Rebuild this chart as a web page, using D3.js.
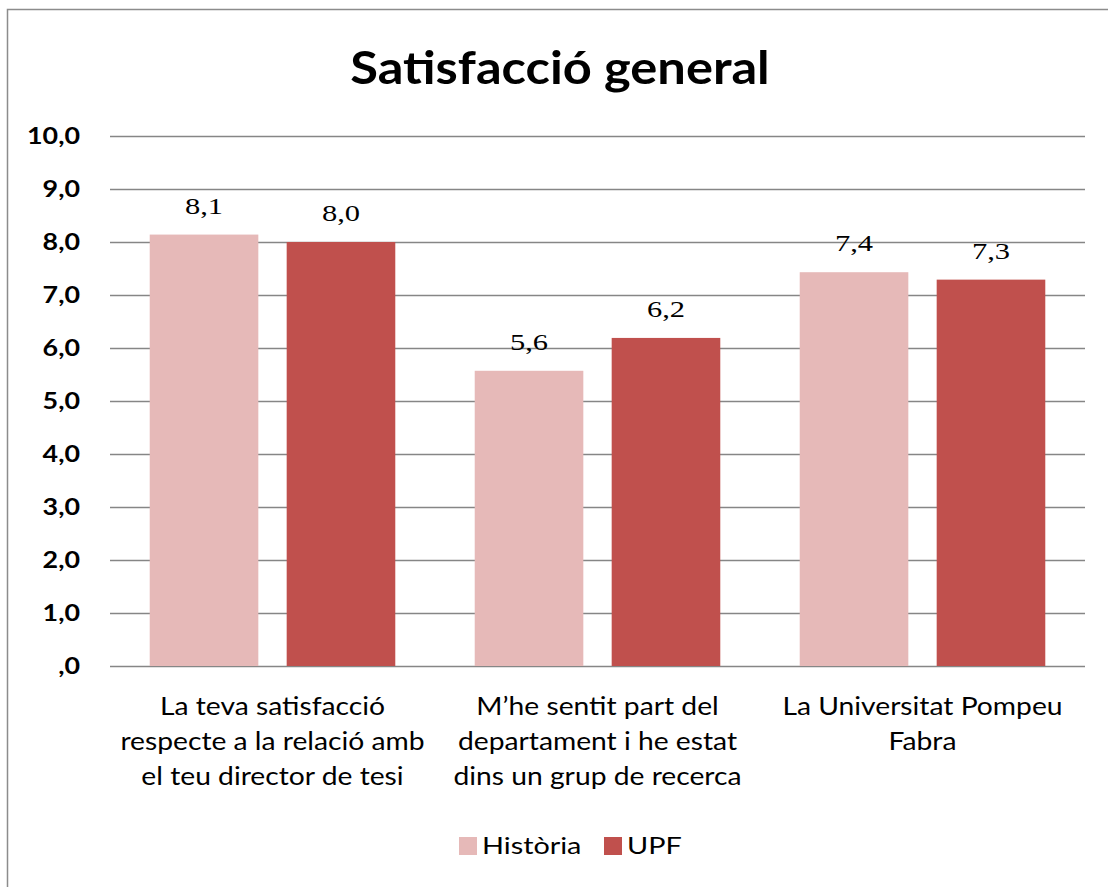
<!DOCTYPE html>
<html lang="ca">
<head>
<meta charset="UTF-8">
<title>Satisfacció general</title>
<script src="https://d3js.org/d3.v7.min.js"></script>
<style>
    body { margin: 0; background: #fff; }
    svg text { fill: #000; }
    .lbl { font-family: Lato, "Open Sans", sans-serif; }
    .val { font-family: "Liberation Serif", serif; }
</style>
</head>
<body>
<svg id="chart" width="1108" height="887"></svg>
<script>
    const title = "Satisfacció general";
    const categories = [
        ["La teva satisfacció", "respecte a la relació amb", "el teu director de tesi"],
        ["M\u2019he sentit part del", "departament i he estat", "dins un grup de recerca"],
        ["La Universitat Pompeu", "Fabra"]
    ];
    const seriesNames = ["Història", "UPF"];
    const historia = [8.14, 5.57, 7.43];
    const upf = [8.0, 6.19, 7.29];
    const yTicks = [0, 1, 2, 3, 4, 5, 6, 7, 8, 9, 10];
    const colors = ["#E6B9B8", "#C0504D"];

    const width = 1108, height = 887;
    const svg = d3.select("#chart");
    const margin = { left: 110, right: 1085, top: 136, bottom: 666 };

    // the original picture is a bit stretched sideways, so text gets a horizontal scale
    const stretched = (parent, x, y, sx) =>
        parent.append("g").attr("transform", `translate(${x},${y}) scale(${sx},1)`);

    // outer frame (only left/top edge visible in the crop)
    svg.append("rect")
        .attr("x", 7.5).attr("y", 9.5)
        .attr("width", width + 20).attr("height", height + 20)
        .attr("fill", "none").attr("stroke", "#8c8c8c").attr("stroke-width", 1.5);

    stretched(svg, 560, 84, 1.1).append("text")
        .attr("class", "lbl")
        .attr("text-anchor", "middle")
        .attr("font-size", 46).attr("font-weight", "bold")
        .text(title);

    const y = d3.scaleLinear().domain([0, 10]).range([margin.bottom, margin.top]);
    const x0 = d3.scaleBand().domain(d3.range(categories.length))
        .range([margin.left, margin.right]);
    const x1 = d3.scaleBand().domain(seriesNames)
        .range([0, x0.bandwidth()]).paddingInner(0.207).paddingOuter(0.29);

    const fmt = v => v === 0 ? ",0" : d3.format(".1f")(v).replace(".", ",");

    // gridlines + y labels
    const tickSx = 1.22;
    const yAxis = svg.append("g")
        .attr("transform", `translate(${margin.left},0)`)
        .call(d3.axisLeft(y).tickValues(yTicks).tickSize(-(margin.right - margin.left))
            .tickFormat(fmt));
    yAxis.select(".domain").remove();
    yAxis.selectAll(".tick line").attr("stroke", "#868686").attr("stroke-width", 1.5);
    yAxis.selectAll(".tick text")
        .attr("class", "lbl").attr("font-size", 22).attr("font-weight", "bold")
        .attr("fill", "#000")
        .attr("x", -30 / tickSx)
        .attr("transform", `scale(${tickSx},1)`);

    const data = categories.map((c, i) => ({ i, vals: [historia[i], upf[i]] }));

    const groups = svg.append("g").selectAll("g")
        .data(data).join("g")
        .attr("transform", d => `translate(${x0(d.i)},0)`);

    const bars = d => d.vals.map((v, j) => ({ name: seriesNames[j], v, j }));

    groups.selectAll("rect")
        .data(bars)
        .join("rect")
        .attr("x", d => x1(d.name))
        .attr("width", x1.bandwidth())
        .attr("y", d => y(d.v))
        .attr("height", d => y(0) - y(d.v))
        .attr("fill", d => colors[d.j]);

    groups.each(function (g) {
        const grp = d3.select(this);
        bars(g).forEach(d => {
            stretched(grp, x1(d.name) + x1.bandwidth() / 2, y(d.v) - 21, 1.27)
                .append("text")
                .attr("class", "val")
                .attr("text-anchor", "middle")
                .attr("font-size", 24)
                .text(fmt(d.v));
        });
        // category labels
        stretched(grp, x0.bandwidth() / 2, 0, 1.13).append("text")
            .attr("class", "lbl")
            .attr("text-anchor", "middle")
            .attr("font-size", 25)
            .selectAll("tspan")
            .data(categories[g.i])
            .join("tspan")
            .attr("x", 0)
            .attr("y", (d, k) => 715 + k * 35)
            .text(d => d);
    });

    // legend
    const legend = svg.append("g");
    const legendX = [459, 604];
    seriesNames.forEach((name, j) => {
        legend.append("rect")
            .attr("x", legendX[j]).attr("y", 837)
            .attr("width", 18).attr("height", 18)
            .attr("fill", colors[j]);
        stretched(legend, legendX[j] + 23, 854, 1.2).append("text")
            .attr("class", "lbl")
            .attr("font-size", 24)
            .text(name);
    });
</script>
</body>
</html>
